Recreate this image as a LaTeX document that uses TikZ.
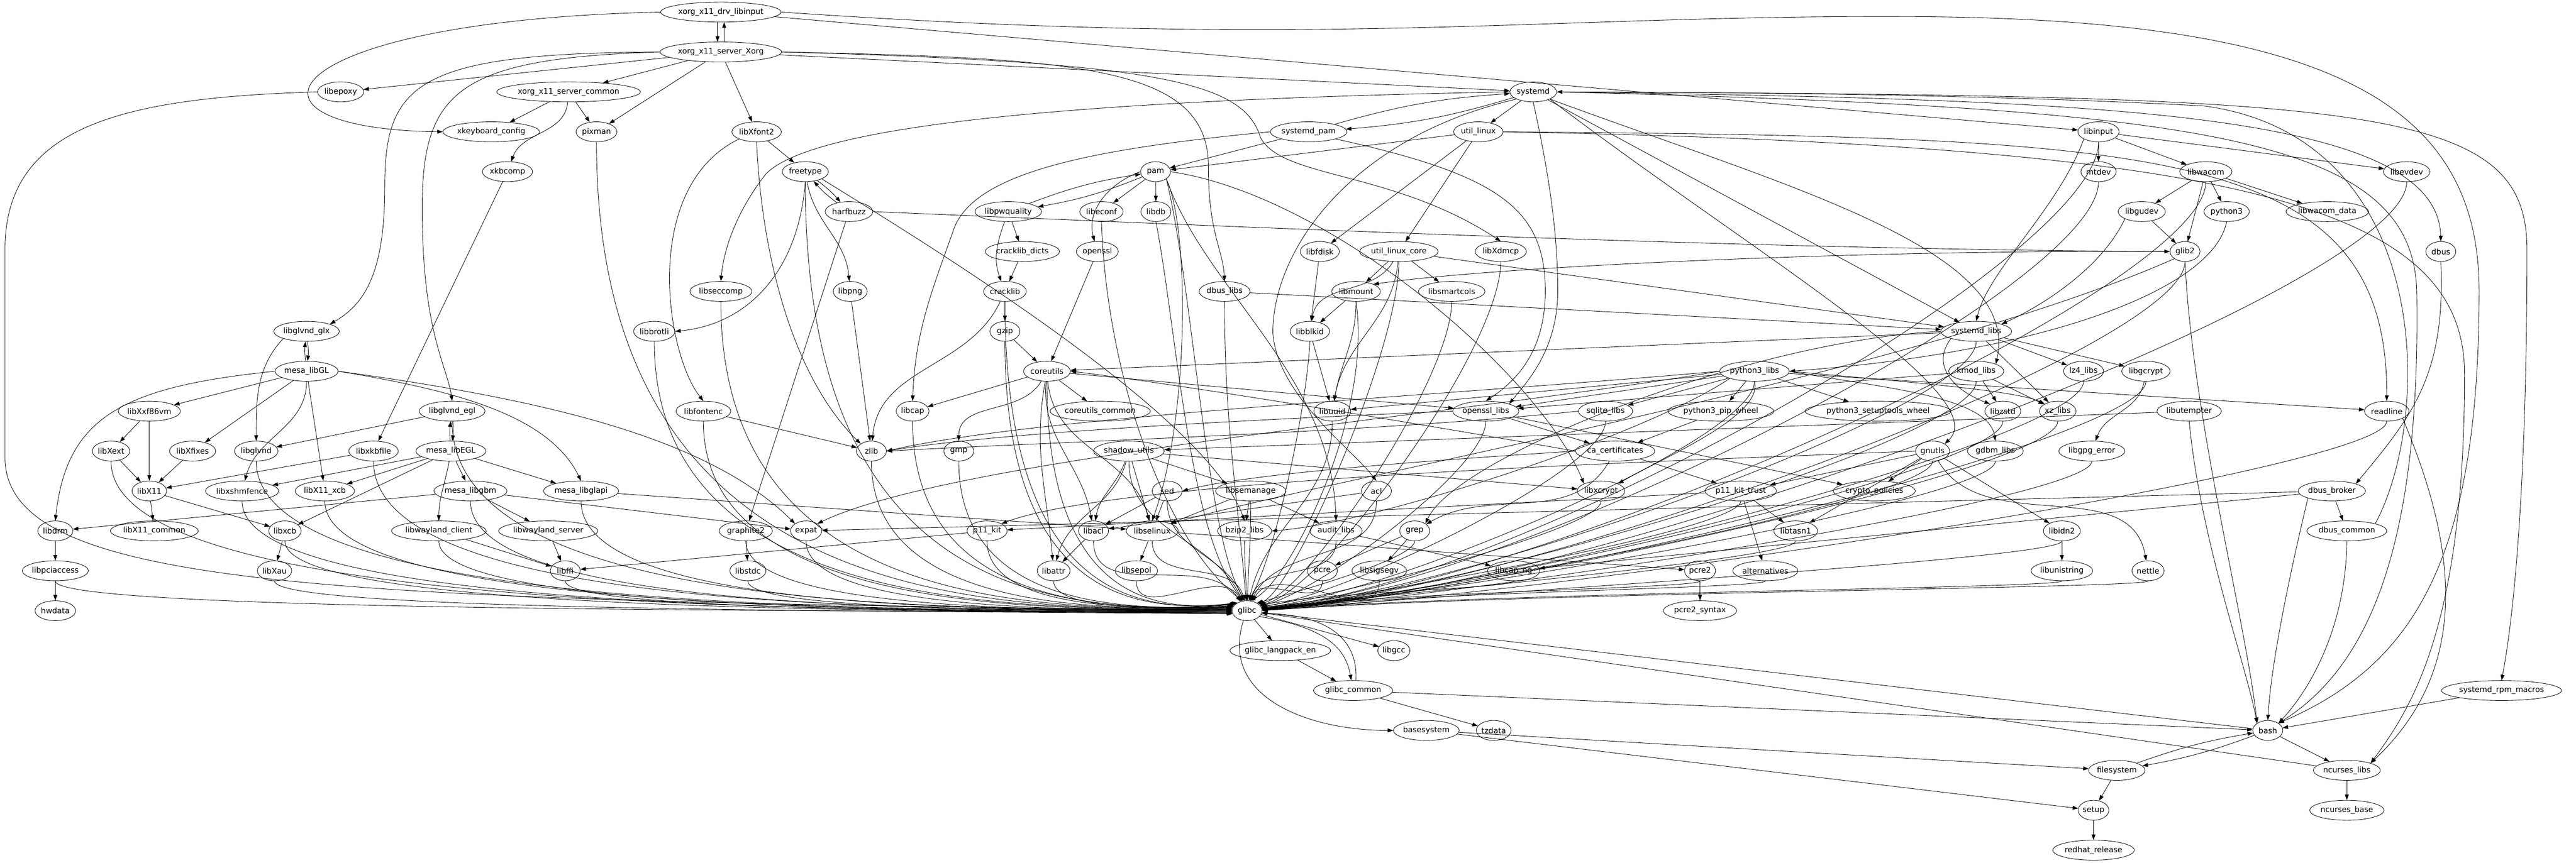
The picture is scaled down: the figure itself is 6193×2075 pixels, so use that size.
\documentclass[tikz,border=0pt]{standalone}
\usepackage{fontspec}
\setmainfont{DejaVu Sans}
\usetikzlibrary{shapes.geometric,arrows.meta,calc}
\newlength\pkwd
\newcommand\pkfont{\fontsize{14pt}{17pt}\selectfont}
\newcommand\pnode[4]{\settowidth\pkwd{\pkfont #2}\pgfmathsetlengthmacro\pkmw{max(54pt,1.3*\pkwd+18pt)}\node[pkg,minimum width=\pkmw] (#1) at (#3,#4) {#2};}
\newcommand\edgeL[2]{\draw[dep] (#1.south) .. controls (#1.south |- glibc.center) and ($(#1.south |- glibc.center)!0.6!(glibc.center)$) .. (glibc.#2);}
\newcommand\edgeR[2]{\draw[dep] (#1.south) .. controls ($(#1.south)!0.25!(#1.south |- glibc.center)$) and ($(#1.south |- glibc.center)!0.7!(glibc.center)+(0,-45)$) .. (glibc.#2);}
\newcommand\edgeT[2]{\draw[dep] (#1) to[out=-90,in=#2] (glibc);}
\begin{document}
\begin{tikzpicture}[x=0.75pt,y=-0.75pt,
  pkg/.style={ellipse,draw,line width=0.8pt,inner sep=0pt,minimum height=36pt,font=\pkfont},
  dep/.style={line width=0.8pt,-{Triangle[length=10pt,width=7pt]}}]
\path[fill=white] (0,0) rectangle (6193,2075);
\useasboundingbox (0,0) rectangle (6193,2075);
% ---------------- nodes
\pnode{drv}{xorg\_x11\_drv\_libinput}{1733}{29}
\pnode{xorg}{xorg\_x11\_server\_Xorg}{1733}{125}
\pnode{libepoxy}{libepoxy}{819}{221}
\pnode{xcommon}{xorg\_x11\_server\_common}{1367}{221}
\pnode{systemd}{systemd}{3686}{221}
\pnode{xkbconf}{xkeyboard\_config}{1181}{317}
\pnode{pixman}{pixman}{1434}{317}
\pnode{libXfont2}{libXfont2}{1819}{317}
\pnode{systemdpam}{systemd\_pam}{3146}{317}
\pnode{utillinux}{util\_linux}{3554}{317}
\pnode{libinput}{libinput}{5045}{317}
\pnode{xkbcomp}{xkbcomp}{1220}{413}
\pnode{freetype}{freetype}{1936}{413}
\pnode{pam}{pam}{2778}{413}
\pnode{mtdev}{mtdev}{5045}{413}
\pnode{libwacom}{libwacom}{5303}{413}
\pnode{libevdev}{libevdev}{5786}{413}
\pnode{harfbuzz}{harfbuzz}{2041}{509}
\pnode{libpwquality}{libpwquality}{2424}{509}
\pnode{libeconf}{libeconf}{2648}{509}
\pnode{libdb}{libdb}{2779}{509}
\pnode{libgudev}{libgudev}{5149}{509}
\pnode{python3}{python3}{5353}{509}
\pnode{wacomdata}{libwacom\_data}{5595}{509}
\pnode{crackdicts}{cracklib\_dicts}{2458}{605}
\pnode{openssl}{openssl}{2638}{605}
\pnode{libfdisk}{libfdisk}{3173}{605}
\pnode{ulcore}{util\_linux\_core}{3363}{605}
\pnode{libXdmcp}{libXdmcp}{3608}{605}
\pnode{glib2}{glib2}{5253}{605}
\pnode{dbus}{dbus}{5868}{605}
\pnode{libseccomp}{libseccomp}{1733}{701}
\pnode{libpng}{libpng}{2044}{701}
\pnode{cracklib}{cracklib}{2416}{701}
\pnode{dbuslibs}{dbus\_libs}{2944}{701}
\pnode{libmount}{libmount}{3260}{701}
\pnode{libsmartcols}{libsmartcols}{3490}{701}
\pnode{glx}{libglvnd\_glx}{737}{797}
\pnode{libbrotli}{libbrotli}{1573}{797}
\pnode{gzip}{gzip}{2416}{797}
\pnode{libblkid}{libblkid}{3149}{797}
\pnode{systemdlibs}{systemd\_libs}{4751}{797}
\pnode{mesaGL}{mesa\_libGL}{737}{893}
\pnode{coreutils}{coreutils}{2517}{893}
\pnode{pylibs}{python3\_libs}{4218}{893}
\pnode{kmod}{kmod\_libs}{4751}{893}
\pnode{lzfour}{lz4\_libs}{5009}{893}
\pnode{libgcrypt}{libgcrypt}{5159}{893}
\pnode{libXxf86vm}{libXxf86vm}{359}{989}
\pnode{egl}{libglvnd\_egl}{1087}{989}
\pnode{libfontenc}{libfontenc}{1691}{989}
\pnode{libcap}{libcap}{2194}{989}
\pnode{cucommon}{coreutils\_common}{2645}{989}
\pnode{libuuid}{libuuid}{3203}{989}
\pnode{ossllibs}{openssl\_libs}{3572}{989}
\pnode{sqlite}{sqlite\_libs}{3860}{989}
\pnode{pipwheel}{python3\_pip\_wheel}{4137}{989}
\pnode{setupwheel}{python3\_setuptools\_wheel}{4515}{989}
\pnode{libzstd}{libzstd}{4815}{989}
\pnode{xz}{xz\_libs}{4947}{989}
\pnode{libutempter}{libutempter}{5263}{989}
\pnode{readline}{readline}{5738}{989}
\pnode{libXext}{libXext}{267}{1085}
\pnode{libXfixes}{libXfixes}{463}{1085}
\pnode{libglvnd}{libglvnd}{616}{1085}
\pnode{libxkbfile}{libxkbfile}{898}{1085}
\pnode{mesaEGL}{mesa\_libEGL}{1084}{1085}
\pnode{zlib}{zlib}{2095}{1085}
\pnode{gmp}{gmp}{2305}{1085}
\pnode{shadow}{shadow\_utils}{2714}{1085}
\pnode{cacerts}{ca\_certificates}{3883}{1085}
\pnode{gnutls}{gnutls}{4646}{1085}
\pnode{gdbm}{gdbm\_libs}{4797}{1085}
\pnode{gpgerror}{libgpg\_error}{5029}{1085}
\pnode{libX11}{libX11}{359}{1181}
\pnode{shmfence}{libxshmfence}{582}{1181}
\pnode{xcbx}{libX11\_xcb}{781}{1181}
\pnode{gbm}{mesa\_libgbm}{1131}{1181}
\pnode{glapi}{mesa\_libglapi}{1397}{1181}
\pnode{sed}{sed}{2806}{1181}
\pnode{semanage}{libsemanage}{3007}{1181}
\pnode{acl}{acl}{3309}{1181}
\pnode{libxcrypt}{libxcrypt}{3849}{1181}
\pnode{ptrust}{p11\_kit\_trust}{4185}{1181}
\pnode{cryptopol}{crypto\_policies}{4506}{1181}
\pnode{dbusbroker}{dbus\_broker}{5606}{1181}
\pnode{libdrm}{libdrm}{133}{1277}
\pnode{xcommonlib}{libX11\_common}{371}{1277}
\pnode{libxcb}{libxcb}{685}{1277}
\pnode{wlclient}{libwayland\_client}{1055}{1277}
\pnode{wlserver}{libwayland\_server}{1318}{1277}
\pnode{graphite}{graphite2}{1793}{1277}
\pnode{expat}{expat}{1938}{1277}
\pnode{pkit}{p11\_kit}{2373}{1277}
\pnode{libacl}{libacl}{2629}{1277}
\pnode{libselinux}{libselinux}{2770}{1277}
\pnode{bzip}{bzip2\_libs}{2992}{1277}
\pnode{audit}{audit\_libs}{3212}{1277}
\pnode{grep}{grep}{3401}{1277}
\pnode{libtasn}{libtasn1}{4317}{1277}
\pnode{libidn}{libidn2}{4957}{1277}
\pnode{dbuscommon}{dbus\_common}{5642}{1277}
\pnode{pciaccess}{libpciaccess}{133}{1373}
\pnode{libXau}{libXau}{660}{1373}
\pnode{libffi}{libffi}{1359}{1373}
\pnode{libstdc}{libstdc}{1798}{1373}
\pnode{libattr}{libattr}{2533}{1373}
\pnode{libsepol}{libsepol}{2732}{1373}
\pnode{pcre}{pcre}{3179}{1373}
\pnode{sigsegv}{libsigsegv}{3316}{1373}
\pnode{capng}{libcap\_ng}{3639}{1373}
\pnode{pcretwo}{pcre2}{4087}{1373}
\pnode{alternatives}{alternatives}{4244}{1373}
\pnode{unistring}{libunistring}{4957}{1373}
\pnode{nettle}{nettle}{5164}{1373}
\pnode{hwdata}{hwdata}{133}{1469}
\pnode{glibc}{glibc}{2998}{1469}
\pnode{pcresyntax}{pcre2\_syntax}{4087}{1469}
\pnode{langpack}{glibc\_langpack\_en}{3078}{1565}
\pnode{libgcc}{libgcc}{3351}{1565}
\pnode{glibccommon}{glibc\_common}{3253}{1661}
\pnode{rpmmacros}{systemd\_rpm\_macros}{6014}{1661}
\pnode{basesystem}{basesystem}{3429}{1757}
\pnode{tzdata}{tzdata}{3591}{1757}
\pnode{bash}{bash}{5452}{1757}
\pnode{filesystem}{filesystem}{5089}{1853}
\pnode{ncurseslibs}{ncurses\_libs}{5642}{1853}
\pnode{setup}{setup}{5033}{1949}
\pnode{ncursesbase}{ncurses\_base}{5642}{1949}
\pnode{redhat}{redhat\_release}{5033}{2045}
% ---------------- top
\draw[dep] ([xshift=-6pt]drv.south) -- ([xshift=-6pt]xorg.north);
\draw[dep] ([xshift=6pt]xorg.north) -- ([xshift=6pt]drv.south);
\draw[dep] (drv.west) .. controls (650,50) and (520,310) .. (xkbconf.west);
\draw[dep] (drv) -- (libinput);
\draw[dep] (drv.east) .. controls (3200,120) and (3700,35) .. (4600,40) .. controls (5600,45) and (5960,250) .. (5960,700) .. controls (5960,1350) and (5800,1600) .. (bash.north east);
\draw[dep] (xorg) -- (libepoxy);
\draw[dep] (xorg) -- (xcommon);
\draw[dep] (xorg) -- (pixman);
\draw[dep] (xorg) -- (libXfont2);
\draw[dep] (xorg.west) .. controls (1000,128) and (925,200) .. (925,450) .. controls (925,650) and (880,730) .. (glx.north east);
\draw[dep] (xorg.west) .. controls (1100,140) and (1015,220) .. (1015,500) .. controls (1015,800) and (1075,880) .. (egl.north);
\draw[dep] (xorg) -- (systemd);
\draw[dep] (xorg.east) .. controls (2600,140) and (2905,160) .. (2905,400) .. controls (2905,560) and (2940,600) .. (dbuslibs.north);
\draw[dep] (xorg.east) .. controls (2800,150) and (2990,200) .. (3030,330) .. controls (3080,430) and (3350,410) .. (libXdmcp.north);
\draw[dep] (xcommon) -- (xkbconf);
\draw[dep] (xcommon) -- (pixman);
\draw[dep] (xcommon) to[out=-95,in=70] (xkbcomp);
\draw[dep] (libepoxy.west) .. controls (300,235) and (12,300) .. (12,600) -- (12,1100) .. controls (12,1420) and (800,1445) .. (glibc.178);
\edgeL{pixman}{172}
\draw[dep] (xkbcomp) -- (libxkbfile);
\draw[dep] (libXfont2) -- (freetype);
\draw[dep] (libXfont2.south) .. controls (1830,600) and (1900,900) .. (zlib.north west);
\draw[dep] (libXfont2.south west) .. controls (1540,450) and (1600,850) .. (libfontenc.north);
% ---------------- systemd
\draw[dep] (systemd) to[bend left=6] (systemdpam);
\draw[dep] (systemdpam) to[bend left=6] (systemd);
\draw[dep] (systemd) -- (utillinux);
\draw[dep] (systemd.west) .. controls (2600,240) and (1950,300) .. (1840,420) .. controls (1770,510) and (1740,600) .. (libseccomp.north);
\draw[dep] (systemd) -- (systemdlibs);
\draw[dep] (systemd.south) .. controls (3720,400) and (3745,550) .. (3745,700) .. controls (3745,850) and (3660,930) .. (ossllibs.north east);
\draw[dep] (systemd.south west) .. controls (3250,330) and (3060,600) .. (3060,800) .. controls (3070,950) and (3250,1080) .. (acl.north);
\draw[dep] (systemd.south east) .. controls (4300,450) and (4860,600) .. (kmod.north east);
\draw[dep] (systemd.east) .. controls (5000,240) and (5860,260) .. (dbus.north);
\draw[dep] (systemd.east) .. controls (5700,230) and (6075,250) .. (6075,600) .. controls (6075,1200) and (6040,1500) .. (rpmmacros.north);
\draw[dep] (systemd.east) .. controls (5300,260) and (5800,330) .. (5810,700) .. controls (5820,1300) and (5700,1600) .. (bash.north east);
\draw[dep] (systemd.south east) .. controls (4200,600) and (4800,950) .. (gnutls.north east);
\draw[dep] (systemdpam) -- (pam);
\draw[dep] (systemdpam.west) .. controls (2600,360) and (2330,420) .. (2290,560) .. controls (2240,700) and (2200,800) .. (libcap.north);
\draw[dep] (systemdpam.south east) .. controls (3600,420) and (3715,500) .. (3715,700) .. controls (3715,850) and (3640,920) .. (ossllibs.north);
\draw[dep] (utillinux) -- (pam);
\draw[dep] (utillinux) -- (libfdisk);
\draw[dep] (utillinux) -- (ulcore);
\draw[dep] (utillinux.east) .. controls (5200,330) and (5740,350) .. (readline.north);
\draw[dep] (utillinux.east) .. controls (5400,350) and (5925,500) .. (5925,900) .. controls (5925,1500) and (5800,1700) .. (ncurseslibs.north east);
% ---------------- libinput
\draw[dep] (libinput) -- (mtdev);
\draw[dep] (libinput) -- (libwacom);
\draw[dep] (libinput) -- (libevdev);
\draw[dep] (libinput.south west) .. controls (4950,500) and (4780,650) .. (systemdlibs.north);
\edgeR{libinput}{13}
\draw[dep] (libwacom) -- (libgudev);
\draw[dep] (libwacom) -- (glib2);
\draw[dep] (libwacom) -- (python3);
\draw[dep] (libwacom) -- (wacomdata);
\edgeR{libwacom}{7}
\draw[dep] (libgudev) -- (glib2);
\draw[dep] (libgudev.south west) .. controls (5050,650) and (4900,740) .. (systemdlibs.north east);
\draw[dep] (python3.south) .. controls (5320,700) and (4900,850) .. (pylibs.east);
\edgeR{mtdev}{14}
\edgeR{libevdev}{6}
\draw[dep] (glib2.west) .. controls (4500,600) and (3600,640) .. (libmount.north east);
\draw[dep] (glib2.south west) .. controls (4600,900) and (3200,1150) .. (libselinux.north east);
\draw[dep] (glib2.south) .. controls (5270,1000) and (5400,1500) .. (bash.north west);
\edgeR{glib2}{9}
\draw[dep] (dbus.south) .. controls (5880,900) and (5800,1000) .. (dbusbroker.north east);
\draw[dep] (dbusbroker) -- (dbuscommon);
\draw[dep] (dbusbroker) -- (expat);
\draw[dep] (dbusbroker) -- (capng);
\draw[dep] (dbusbroker.south west) .. controls (5500,1400) and (5460,1600) .. (bash.north);
\draw[dep] (dbuscommon.north east) .. controls (5850,1000) and (5850,330) .. (5300,255) .. controls (4800,228) and (4200,222) .. (systemd.east);
\draw[dep] (dbuscommon.south) .. controls (5640,1500) and (5560,1650) .. (bash.north east);
\draw[dep] (dbuslibs) -- (systemdlibs);
\edgeT{dbuslibs}{95}
% ---------------- pam
\draw[dep] (pam) to[bend left=6] (libpwquality);
\draw[dep] (libpwquality) to[bend left=6] (pam);
\draw[dep] (pam) -- (libeconf);
\draw[dep] (pam) -- (libdb);
\draw[dep] (pam.west) to[out=200,in=105] (openssl);
\draw[dep] (pam.east) .. controls (3200,470) and (3700,900) .. (libxcrypt.north west);
\draw[dep] (pam.south east) .. controls (2900,700) and (3200,900) .. (audit.north);
\draw[dep] (pam.south east) .. controls (2860,550) and (2860,1000) .. (libselinux.north);
\draw[dep] (pam.south east) .. controls (2870,700) and (2900,1300) .. (glibc.100);
\draw[dep] (libpwquality) -- (crackdicts);
\draw[dep] (libpwquality) to[out=-110,in=110] (cracklib);
\draw[dep] (crackdicts) -- (cracklib);
\draw[dep] (cracklib) -- (gzip);
\draw[dep] (cracklib) to[out=-115,in=85] (zlib);
\edgeL{cracklib}{150}
\draw[dep] (gzip) -- (coreutils);
\edgeL{gzip}{148}
\draw[dep] (openssl) -- (coreutils);
\draw[dep] (libeconf.south) .. controls (2660,900) and (2800,1300) .. (glibc.115);
\draw[dep] (libdb.south) .. controls (2830,800) and (2860,1300) .. (glibc.105);
% ---------------- fonts
\draw[dep] (freetype) to[bend left=6] (harfbuzz);
\draw[dep] (harfbuzz) to[bend left=6] (freetype);
\draw[dep] (harfbuzz.east) .. controls (3300,560) and (4300,600) .. (glib2.west);
\draw[dep] (harfbuzz) -- (graphite);
\draw[dep] (freetype) to[out=-80,in=95] (libpng);
\draw[dep] (freetype.south) .. controls (1920,650) and (1800,780) .. (libbrotli.east);
\draw[dep] (freetype.south east) .. controls (2250,600) and (2900,1000) .. (bzip.north);
\edgeL{freetype}{166}
\draw[dep] (libpng) -- (zlib);
\draw[dep] (libfontenc) -- (zlib);
\edgeL{libfontenc}{174}
\draw[dep] (graphite) -- (libstdc);
\edgeL{graphite}{178}
\edgeL{libstdc}{182}
\edgeL{libbrotli}{170}
\edgeL{libseccomp}{168}
\edgeL{zlib}{164}
\edgeL{expat}{176}
\edgeL{libcap}{162}
\edgeL{gmp}{160}
% ---------------- mesa / X
\draw[dep] (glx) to[bend left=6] (mesaGL);
\draw[dep] (mesaGL) to[bend left=6] (glx);
\draw[dep] (glx.south west) .. controls (620,880) and (615,950) .. (libglvnd.north);
\draw[dep] (mesaGL) -- (libXxf86vm);
\draw[dep] (mesaGL) -- (libXfixes);
\draw[dep] (mesaGL) to[out=-90,in=75] (shmfence);
\draw[dep] (mesaGL) -- (xcbx);
\draw[dep] (mesaGL.east) .. controls (1100,940) and (1320,1000) .. (glapi.north);
\draw[dep] (mesaGL.west) .. controls (300,930) and (160,1000) .. (libdrm.north);
\draw[dep] (mesaGL.east) .. controls (1300,960) and (1700,1050) .. (expat.north west);
\draw[dep] (libXxf86vm) -- (libXext);
\draw[dep] (libXxf86vm) -- (libX11);
\draw[dep] (libXext) -- (libX11);
\edgeL{libXext}{184}
\draw[dep] (libXfixes) -- (libX11);
\edgeL{libglvnd}{180}
\draw[dep] (libxkbfile) -- (libX11);
\edgeL{libxkbfile}{176}
\draw[dep] (egl) -- (libglvnd);
\draw[dep] (egl) to[bend left=6] (mesaEGL);
\draw[dep] (mesaEGL) to[bend left=6] (egl);
\edgeL{egl}{174}
\draw[dep] (mesaEGL) -- (shmfence);
\draw[dep] (mesaEGL) -- (xcbx);
\draw[dep] (mesaEGL) -- (libxcb);
\draw[dep] (mesaEGL) -- (gbm);
\draw[dep] (mesaEGL) -- (glapi);
\draw[dep] (mesaEGL) to[out=-100,in=90] (wlclient);
\draw[dep] (gbm) -- (libdrm);
\draw[dep] (gbm) -- (wlserver);
\draw[dep] (gbm) -- (expat);
\edgeL{gbm}{180}
\draw[dep] (glapi) -- (libselinux);
\edgeL{glapi}{178}
\draw[dep] (libX11) -- (xcommonlib);
\draw[dep] (libX11) -- (libxcb);
\edgeL{shmfence}{188}
\edgeL{xcbx}{184}
\draw[dep] (libdrm) -- (pciaccess);
\draw[dep] (pciaccess) -- (hwdata);
\edgeL{pciaccess}{186}
\draw[dep] (libxcb) -- (libXau);
\edgeL{libxcb}{190}
\edgeL{libXau}{192}
\draw[dep] (wlclient) -- (libffi);
\edgeL{wlclient}{186}
\draw[dep] (wlserver) -- (libffi);
\edgeL{libffi}{190}
% ---------------- coreutils & co
\draw[dep] (coreutils) -- (libcap);
\draw[dep] (coreutils) -- (cucommon);
\draw[dep] (coreutils) to[out=-120,in=90] (gmp);
\draw[dep] (coreutils) to[out=-100,in=95] (libattr);
\draw[dep] (coreutils) to[out=-95,in=100] (libacl);
\draw[dep] (coreutils) to[out=-85,in=105] (libselinux);
\draw[dep] (coreutils) -- (ossllibs);
\edgeL{coreutils}{145}
\draw[dep] (shadow) to[out=-110,in=80] (libacl);
\draw[dep] (shadow) to[out=-105,in=75] (libattr);
\draw[dep] (shadow) -- (libselinux);
\draw[dep] (shadow) -- (semanage);
\draw[dep] (shadow) -- (libxcrypt);
\edgeT{shadow}{115}
\draw[dep] (sed) -- (libacl);
\draw[dep] (sed) -- (libselinux);
\edgeT{sed}{110}
\draw[dep] (semanage) -- (libselinux);
\draw[dep] (semanage) -- (bzip);
\draw[dep] (semanage) -- (audit);
\edgeT{semanage}{88}
\draw[dep] (acl) -- (libacl);
\edgeT{acl}{65}
\draw[dep] (libacl) -- (libattr);
\edgeT{libacl}{125}
\draw[dep] (libselinux) -- (libsepol);
\draw[dep] (libselinux) -- (pcretwo);
\edgeT{libselinux}{105}
\edgeL{libattr}{140}
\edgeT{libsepol}{120}
\edgeT{bzip}{92}
\draw[dep] (audit) -- (capng);
\edgeT{audit}{72}
\draw[dep] (grep) -- (pcre);
\draw[dep] (grep) -- (sigsegv);
\edgeR{grep}{38}
\edgeR{capng}{22}
\edgeT{pcre}{70}
\edgeT{sigsegv}{60}
% ---------------- util-linux
\draw[dep] (ulcore) -- (libmount);
\draw[dep] (ulcore) -- (libsmartcols);
\draw[dep] (ulcore) to[out=-120,in=80] (libblkid);
\draw[dep] (ulcore) to[out=-95,in=80] (libuuid);
\draw[dep] (ulcore) -- (systemdlibs);
\edgeR{ulcore}{35}
\draw[dep] (libfdisk) -- (libblkid);
\draw[dep] (libmount) -- (libblkid);
\draw[dep] (libmount) to[out=-90,in=80] (libuuid);
\draw[dep] (libmount.south) .. controls (3300,1000) and (3100,1400) .. (glibc.75);
\draw[dep] (libblkid) -- (libuuid);
\draw[dep] (libblkid.south) .. controls (3140,1000) and (3060,1350) .. (glibc.82);
\edgeR{libsmartcols}{30}
\edgeR{libXdmcp}{25}
\edgeT{libuuid}{78}
% ---------------- systemd libs
\draw[dep] (systemdlibs) -- (coreutils);
\draw[dep] (systemdlibs.west) .. controls (4200,820) and (3500,1100) .. (grep.north east);
\draw[dep] (systemdlibs.south west) .. controls (4640,880) and (4700,940) .. (libzstd.north west);
\draw[dep] (systemdlibs) -- (xz);
\draw[dep] (systemdlibs) -- (lzfour);
\draw[dep] (systemdlibs) -- (libgcrypt);
\edgeR{systemdlibs}{10}
\draw[dep] (kmod) -- (libzstd);
\draw[dep] (kmod) -- (xz);
\draw[dep] (kmod) -- (ossllibs);
\edgeR{kmod}{8}
\edgeR{lzfour}{6}
\draw[dep] (libgcrypt) to[out=-100,in=70] (gpgerror);
\edgeR{libgcrypt}{4}
\edgeR{libzstd}{7}
\edgeR{xz}{5}
\edgeR{gpgerror}{3}
\edgeR{gdbm}{6}
\draw[dep] (libutempter) -- (shadow);
\draw[dep] (libutempter.south) .. controls (5290,1300) and (5400,1600) .. (bash.north west);
\draw[dep] (readline.south east) .. controls (5900,1300) and (5950,1600) .. (ncurseslibs.north east);
\edgeR{readline}{2}
% ---------------- crypto
\draw[dep] (gnutls) to[out=-60,in=100] (nettle);
\draw[dep] (gnutls) -- (libidn);
\draw[dep] (gnutls) -- (libtasn);
\draw[dep] (gnutls) -- (ptrust);
\draw[dep] (gnutls) -- (cryptopol);
\draw[dep] (gnutls.west) .. controls (4000,1110) and (2700,1150) .. (pkit.north east);
\edgeR{gnutls}{9}
\draw[dep] (libidn) -- (unistring);
\edgeR{libidn}{3}
\edgeR{unistring}{1}
\edgeR{nettle}{0}
\draw[dep] (pylibs) -- (libuuid);
\draw[dep] (pylibs) -- (ossllibs);
\draw[dep] (pylibs) -- (sqlite);
\draw[dep] (pylibs) -- (pipwheel);
\draw[dep] (pylibs) -- (setupwheel);
\draw[dep] (pylibs.south) .. controls (4240,1000) and (4000,1100) .. (libxcrypt.north east);
\draw[dep] (pylibs.west) .. controls (3500,950) and (2500,1000) .. (zlib.east);
\draw[dep] (pylibs.west) .. controls (3500,1000) and (2300,1100) .. (expat.north east);
\draw[dep] (pylibs.south west) .. controls (3950,1050) and (3300,1260) .. (bzip.east);
\draw[dep] (pylibs.east) .. controls (4500,930) and (4780,950) .. (gdbm.north);
\draw[dep] (pylibs.east) .. controls (4600,920) and (4850,940) .. (xz.north west);
\draw[dep] (pylibs) -- (readline);
\edgeR{pylibs}{12}
\draw[dep] (pipwheel) -- (cacerts);
\draw[dep] (sqlite.west) .. controls (3300,1040) and (2600,1060) .. (zlib.east);
\edgeR{sqlite}{15}
\draw[dep] (ossllibs) -- (cacerts);
\draw[dep] (ossllibs) -- (cryptopol);
\draw[dep] (ossllibs.west) .. controls (3000,1010) and (2400,1040) .. (zlib.east);
\edgeR{ossllibs}{20}
\draw[dep] (cacerts) -- (ptrust);
\draw[dep] (cacerts) to[out=-120,in=30] (grep);
\draw[dep] (cacerts.west) .. controls (3300,1000) and (2800,920) .. (coreutils.east);
\draw[dep] (cacerts.west) .. controls (3400,1110) and (3000,1140) .. (sed.east);
\draw[dep] (ptrust) -- (pkit);
\draw[dep] (ptrust) -- (libtasn);
\draw[dep] (ptrust) -- (alternatives);
\edgeR{ptrust}{11}
\draw[dep] (pkit) -- (libffi);
\edgeL{pkit}{155}
\edgeR{libxcrypt}{16}
\edgeR{libtasn}{8}
\edgeR{alternatives}{2}
\draw[dep] (pcretwo) -- (pcresyntax);
\edgeR{pcretwo}{4}
% ---------------- base
\draw[dep] (glibc) -- (langpack);
\draw[dep] (glibc) -- (libgcc);
\draw[dep] (glibc.-25) .. controls (3190,1510) and (3235,1560) .. (glibccommon.100);
\draw[dep] (glibccommon.75) .. controls (3265,1555) and (3215,1480) .. (glibc.-10);
\draw[dep] (glibc.-110) .. controls (2930,1680) and (3150,1757) .. (basesystem.west);
\draw[dep] (langpack) -- (glibccommon);
\draw[dep] (glibccommon) -- (tzdata);
\draw[dep] (glibccommon) -- (bash);
\draw[dep] (basesystem) -- (filesystem);
\draw[dep] (basesystem) -- (setup);
\draw[dep] (bash) -- (glibc);
\draw[dep] (bash) to[bend left=5] (filesystem);
\draw[dep] (filesystem) to[bend left=5] (bash);
\draw[dep] (bash) -- (ncurseslibs);
\draw[dep] (filesystem) -- (setup);
\draw[dep] (setup) -- (redhat);
\draw[dep] (ncurseslibs) -- (ncursesbase);
\draw[dep] (ncurseslibs) -- (glibc);
\draw[dep] (rpmmacros) -- (bash);
\end{tikzpicture}
\end{document}
